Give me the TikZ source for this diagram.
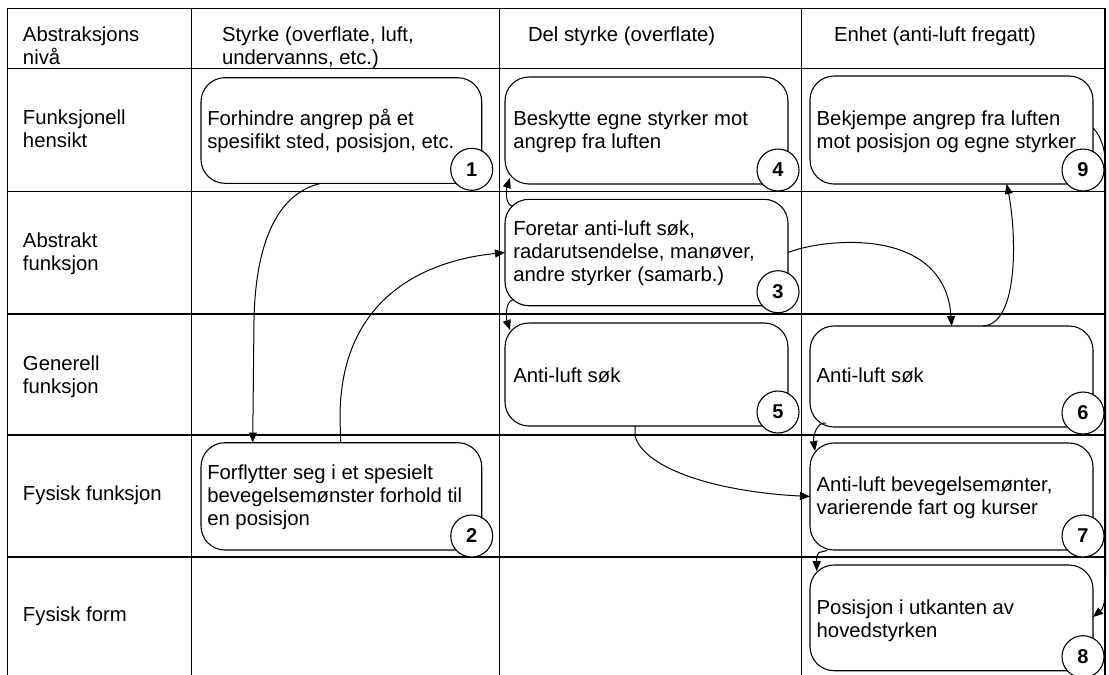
\documentclass[tikz,border=0pt]{standalone}
\usepackage{fontspec}
\setmainfont{Liberation Sans}
\usetikzlibrary{arrows.meta,calc}
\newcommand{\txtlines}[1]{\begin{tabular}[t]{@{}l@{}}#1\end{tabular}}

\begin{document}
\begin{tikzpicture}[x=1pt,y=-1pt,
  grid/.style={line width=1.4pt},
  box/.style={draw, line width=1.1pt, rounded corners=24pt, fill=white, inner sep=0pt, outer sep=0pt},
  num/.style={draw, circle, line width=1.1pt, fill=white, minimum size=42pt, inner sep=0pt,
              font=\fontsize{20}{20}\selectfont\bfseries},
  txt/.style={anchor=base west, inner sep=0pt, outer sep=0pt, font=\fontsize{20.3}{23}\selectfont},
  conn/.style={line width=1pt, -{Triangle[length=10pt,width=8pt]}},
]
\useasboundingbox (0,0) rectangle (1109,675);

% table grid (open at the bottom)
\foreach \y in {8.3,68.3,191.7,314,435,557}
  \draw[grid] (7.5,\y) -- (1105,\y);
\foreach \x in {7.5,191.7,499.3,801.7,1105}
  \draw[grid] (\x,8.3) -- (\x,675);

% header row
\node[txt] (h0) at (23,41.5)  {\txtlines{Abstraksjons\\nivå}};
\node[txt] (h1) at (222,41.5) {\txtlines{Styrke (overflate, luft,\\undervanns, etc.)}};
\node[txt] (h2) at (528,41.5) {Del styrke (overflate)};
\node[txt] (h3) at (834,41.5) {Enhet (anti-luft fregatt)};

% row labels
\node[txt] (r1) at (23,124.5) {\txtlines{Funksjonell\\hensikt}};
\node[txt] (r2) at (23,247)   {\txtlines{Abstrakt\\funksjon}};
\node[txt] (r3) at (23,370)   {\txtlines{Generell\\funksjon}};
\node[txt] (r4) at (23,500)   {Fysisk funksjon};
\node[txt] (r5) at (23,621)   {Fysisk form};

% process boxes
\node[box, minimum width=280.7pt, minimum height=105.6pt] (b1) at (341.35,130.5) {};
\node[box, minimum width=280.7pt, minimum height=107.3pt] (b2) at (341.35,496.35) {};
\node[box, minimum width=283pt, minimum height=106.4pt] (b3) at (646.5,252.5) {};
\node[box, minimum width=283pt, minimum height=107pt]   (b4) at (646.5,130.5) {};
\node[box, minimum width=283pt, minimum height=103pt]   (b5) at (646.5,374.5) {};
\node[box, minimum width=283pt, minimum height=101pt]   (b6) at (951.5,376.5) {};
\node[box, minimum width=283pt, minimum height=107pt]   (b7) at (951.5,496.5) {};
\node[box, minimum width=283pt, minimum height=105.7pt] (b8) at (951.5,617.85) {};
\node[box, minimum width=283pt, minimum height=108pt]   (b9) at (951.5,130) {};

% box texts
\node[txt] (t1) at (207.3,125.7) {\txtlines{Forhindre angrep på et\\spesifikt sted, posisjon, etc.}};
\node[txt] (t2) at (207.3,479.3) {\txtlines{Forflytter seg i et spesielt\\bevegelsemønster forhold til\\en posisjon}};
\node[txt] (t3) at (513.3,235)   {\txtlines{Foretar anti-luft søk,\\radarutsendelse, manøver,\\andre styrker (samarb.)}};
\node[txt] (t4) at (513.3,125.7) {\txtlines{Beskytte egne styrker mot\\angrep fra luften}};
\node[txt] (t5) at (513.3,382)   {Anti-luft søk};
\node[txt] (t6) at (816.7,382.3) {Anti-luft søk};
\node[txt] (t7) at (816.7,491.7) {\txtlines{Anti-luft bevegelsemønter,\\varierende fart og kurser}};
\node[txt] (t8) at (816.7,614)   {\txtlines{Posisjon i utkanten av\\hovedstyrken}};
\node[txt] (t9) at (816.7,125)   {\txtlines{Bekjempe angrep fra luften\\mot posisjon og egne styrker}};

% connectors
\draw[conn] ([xshift=120pt]b1.south west) .. controls +(-52,12) and +(1,-60) ..
  ($(b2.north west)+(53,-122)$) -- ([xshift=51.7pt]b2.north west);
\draw[conn] ([xshift=139.7pt]b2.north west) -- ++(-0.7,-25) .. controls +(0,-120) and +(-80,8) .. (b3.west);
\draw[conn] ([shift={(8,7)}]b3.north west) .. controls +(-8,-1) and +(-4,12) .. ([shift={(5,-6)}]b4.south west);
\draw[conn] ([shift={(8,-6)}]b3.south west) .. controls +(-8,2) and +(-4,-12) .. ([shift={(5,7)}]b5.north west);
\draw[conn] (b3.east) .. controls +(35,-14) and +(-7,-101) .. ([xshift=141.7pt]b6.north west);
\draw[conn] ([xshift=173pt]b6.north west) .. controls +(37,-2) and +(9.3,46) .. ([xshift=196.7pt]b9.south west);
\draw[conn] ([yshift=-52pt]b9.north east) .. controls +(8,8) and +(0,-15) .. ($(b9.north east)+(12.5,89)$)
  -- ($(b8.north east)+(12.5,10)$) .. controls +(0,20) and +(12,-10) .. ([yshift=-52pt]b8.north east);
\draw[conn] ([xshift=130pt]b5.south west) -- ++(0,10) .. controls +(10,34) and +(-90,-4.5) .. (b7.west);
\draw[conn] ([shift={(16,-4)}]b6.south west) .. controls +(-10,-1) and +(-2,-14) .. ([shift={(5,8)}]b7.north west);
\draw[conn] ([shift={(17,0.5)}]b7.south west) -- ++(-8,2) .. controls +(-3,2) and +(0,-8) .. ([shift={(6.7,6.2)}]b8.north west);

% step numbers
\foreach \b/\n in {b1/1,b2/2,b3/3,b4/4,b5/5,b6/6,b7/7,b8/8,b9/9}
  \node[num] (n\n) at ($(\b.south east)+(-10,-14)$) {\n};

\end{tikzpicture}
\end{document}
